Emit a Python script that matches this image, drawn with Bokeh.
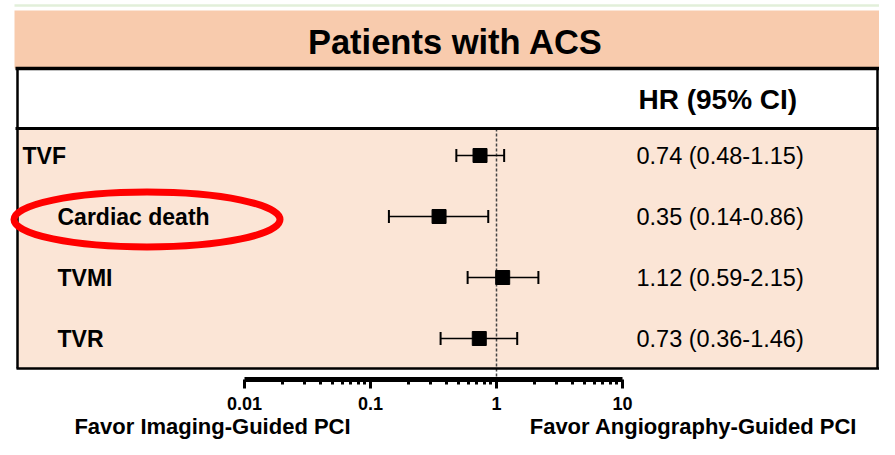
import math
from bokeh.plotting import figure
from bokeh.models import Range1d, FixedTicker, CustomJSTickFormatter, ColumnDataSource
from bokeh.core.properties import value
from bokeh.embed import file_html
from bokeh.resources import INLINE

# ---- data ----
outcomes = ["TVF", "Cardiac death", "TVMI", "TVR"]
hr = [0.74, 0.35, 1.12, 0.73]
ci_low = [0.48, 0.14, 0.59, 0.36]
ci_high = [1.15, 0.86, 2.15, 1.46]
tick_values = [0.01, 0.1, 1, 10]
title_text = "Patients with ACS"
header_text = "HR (95% CI)"
favor_left = "Favor Imaging-Guided PCI"
favor_right = "Favor Angiography-Guided PCI"

# ---- geometry helpers (picture pixel -> data) ----
W, H = 879, 439
DEC = 126.0          # pixels per decade
X0 = 244.0           # pixel of 0.01
ROW = 61.0           # pixels per row

def px_x(x):
    return 10 ** (-2 + (x - X0) / DEC)

def px_y(y):
    return 1 + (338 - y) / ROW

x_start, x_end = px_x(0), px_x(W)
y_start, y_end = px_y(H), px_y(0)

FONT = value("Liberation Sans")

p = figure(width=W, height=H, x_axis_type="log", y_axis_location=None,
           x_range=Range1d(x_start, x_end), y_range=Range1d(y_start, y_end),
           toolbar_location=None, output_backend="svg",
           min_border_left=0, min_border_right=0, min_border_top=0,
           min_border_bottom=0)
p.outline_line_color = None
p.xgrid.visible = False
p.ygrid.visible = False
p.background_fill_color = "white"
p.border_fill_color = "white"

n = len(outcomes)
ys = [n - i for i in range(n)]

# backgrounds
p.quad(left=px_x(14), right=px_x(900), top=px_y(10), bottom=px_y(68),
       fill_color="#F8CBAD", line_color=None)
p.quad(left=px_x(17), right=px_x(876), top=px_y(128), bottom=px_y(368),
       fill_color="#FBE5D6", line_color=None)
p.segment(x0=px_x(14), x1=px_x(900), y0=px_y(5), y1=px_y(5),
          line_color="#E2EFDA", line_width=2.5)

# reference line at HR = 1
p.segment(x0=1, x1=1, y0=px_y(128), y1=px_y(388), line_color="#444444",
          line_width=1.5, line_dash="3 2")

# table borders
p.segment(x0=[px_x(15), px_x(15), px_x(16)],
          x1=[px_x(900), px_x(900), px_x(900)],
          y0=[px_y(68), px_y(128), px_y(368)],
          y1=[px_y(68), px_y(128), px_y(368)],
          line_color="black", line_width=[3.5, 3, 2.5])
p.segment(x0=[px_x(17), px_x(877)], x1=[px_x(17), px_x(877)],
          y0=[px_y(68), px_y(68)], y1=[px_y(368), px_y(368)],
          line_color="black", line_width=2.5)

# error bars + points
src = ColumnDataSource(dict(y=ys, hr=hr, lo=ci_low, hi=ci_high))
p.segment(x0="lo", x1="hi", y0="y", y1="y", source=src,
          line_color="black", line_width=1.5)
p.scatter(x="lo", y="y", source=src, marker="dash", angle=math.pi / 2,
          size=13, line_color="black", line_width=2)
p.scatter(x="hi", y="y", source=src, marker="dash", angle=math.pi / 2,
          size=13, line_color="black", line_width=2)
p.scatter(x="hr", y="y", source=src, marker="square", size=14,
          fill_color="black", line_color="black")

# row labels
label_x = [px_x(22) if i == 0 else px_x(57) for i in range(n)]
p.text(x=label_x, y=ys, text=outcomes, text_font=FONT, text_font_style="bold",
       text_font_size="23px", text_baseline="middle", text_align="left",
       text_color="black")

# HR values
hr_text = [f"{h:.2f} ({l:.2f}-{u:.2f})" for h, l, u in zip(hr, ci_low, ci_high)]
p.text(x=[px_x(636)] * n, y=ys, text=hr_text, text_font=FONT,
       text_font_size="23.5px", text_baseline="middle", text_align="left",
       text_color="black")

# title and header
p.text(x=[px_x(455)], y=[px_y(41)], text=[title_text], text_font=FONT,
       text_font_style="bold", text_font_size="34.5px", text_baseline="middle",
       text_align="center", text_color="black")
p.text(x=[px_x(638)], y=[px_y(99)], text=[header_text], text_font=FONT,
       text_font_style="bold", text_font_size="28px", text_baseline="middle",
       text_align="left", text_color="black")

# highlight ellipse
p.ellipse(x=px_x(146.5), y=px_y(219), width=266, height=55,
          width_units="screen", height_units="screen",
          fill_color=None, line_color="#FF0000", line_width=7)

# favor labels
p.text(x=[px_x(212), px_x(693)], y=[px_y(426)] * 2,
       text=[favor_left, favor_right], text_font=FONT, text_font_style="bold",
       text_font_size="22px", text_baseline="middle", text_align="center",
       text_color="black")

# axis (drawn inside the frame at a fixed location)
ax = p.xaxis[0]
ax.fixed_location = px_y(379)
ax.bounds = (tick_values[0], tick_values[-1])
minor = [m * 10 ** e for e in range(-2, 1) for m in range(2, 10)]
ax.ticker = FixedTicker(ticks=tick_values, minor_ticks=minor)
ax.formatter = CustomJSTickFormatter(code="return tick.toString();")
ax.axis_line_width = 5
ax.axis_line_color = "black"
ax.major_tick_in = 0
ax.major_tick_out = 9
ax.major_tick_line_width = 3
ax.minor_tick_in = 0
ax.minor_tick_out = 5
ax.minor_tick_line_width = 3
ax.major_label_standoff = 8
ax.major_label_text_font = "Liberation Sans"
ax.major_label_text_font_style = "bold"
ax.major_label_text_font_size = "18px"
ax.major_label_text_color = "black"

open("out.html", "w").write(file_html(p, INLINE))
